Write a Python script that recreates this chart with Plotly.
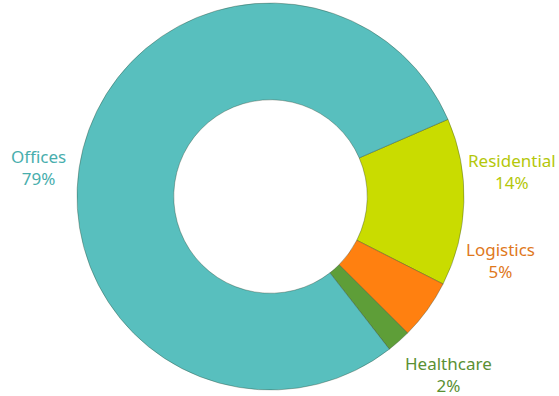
import plotly.graph_objects as go

categories = ["Residential", "Logistics", "Healthcare", "Offices"]
shares = [14, 5, 2, 79]
slice_colors = ["#C9DC00", "#FF8010", "#5E9E38", "#58BFBE"]
text_colors = ["#B4C70A", "#E0781C", "#5A9033", "#48AEAD"]
label_pos = {  # label centres in pixels (x, y from top)
    "Residential": (512, 171),
    "Logistics": (500, 260),
    "Healthcare": (448, 374),
    "Offices": (38, 167),
}

W, H = 559, 396

fig = go.Figure(go.Pie(
    labels=categories,
    values=shares,
    hole=0.5,
    sort=False,
    direction="clockwise",
    rotation=66.5,
    textinfo="none",
    hoverinfo="label+percent",
    marker=dict(colors=slice_colors, line=dict(color="rgba(40,60,40,0.35)", width=1)),
    domain=dict(x=[77 / W, 464 / W], y=[1 - 390 / H, 1 - 3 / H]),
    showlegend=False,
))

for cat, val, col in zip(categories, shares, text_colors):
    px, py = label_pos[cat]
    fig.add_annotation(
        x=px / W, y=1 - py / H, xref="paper", yref="paper",
        text=f"{cat}<br>{val}%", showarrow=False,
        font=dict(family="Noto Sans", size=17, color=col),
        align="center", xanchor="center", yanchor="middle",
    )

fig.update_layout(
    width=W, height=H,
    margin=dict(l=0, r=0, t=0, b=0),
    paper_bgcolor="white", plot_bgcolor="white",
)

fig.write_html("out.html")
